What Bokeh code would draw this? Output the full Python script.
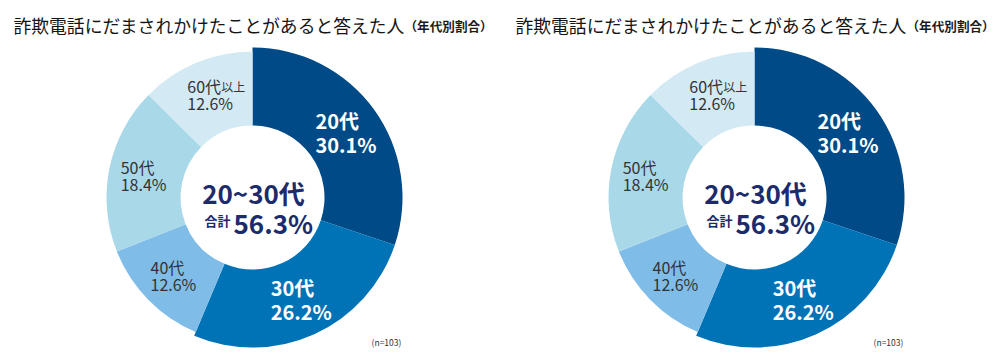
import math
from bokeh.plotting import figure
from bokeh.models import Range1d
from bokeh.core.properties import value
from bokeh.embed import file_html
from bokeh.resources import INLINE

# ---- data ----
categories = ["20代", "30代", "40代", "50代", "60代"]
name_suffix = ["", "", "", "", "以上"]
shares = [30.1, 26.2, 12.6, 18.4, 12.6]
pct_labels = ["30.1%", "26.2%", "12.6%", "18.4%", "12.6%"]
center_title = "20~30代"
center_sub = "合計"
center_value = "56.3%"
title_main = "詐欺電話にだまされかけたことがあると答えた人"
title_sub = "（年代別割合）"
note = "(n=103)"

# ---- style ----
colors = ["#004a87", "#0072b6", "#7fbde8", "#a9d8e8", "#d3eaf4"]
outer_r = [150, 150, 146, 146, 146]
label_color = ["white", "white", "#333333", "#333333", "#333333"]
label_big = [True, True, False, False, False]
NAVY = "#1b2b6b"
FONT = value("Noto Sans CJK JP")
W, H = 1000, 357

p = figure(width=W, height=H, output_backend="svg", toolbar_location=None,
           x_range=Range1d(0, W), y_range=Range1d(0, H), min_border=0)
p.axis.visible = False
p.grid.visible = False
p.outline_line_color = None
p.background_fill_color = "white"


def Y(ypx):
    return H - ypx


def draw_chart(ox):
    cx, cy = 252 + ox, Y(197)
    total = sum(shares)
    cum = 0.0
    for i, v in enumerate(shares):
        a0 = math.pi / 2 - 2 * math.pi * cum / total
        a1 = math.pi / 2 - 2 * math.pi * (cum + v) / total
        mid = math.pi / 2 - 2 * math.pi * (cum + v / 2) / total
        cum += v
        p.annular_wedge(x=cx, y=cy, inner_radius=72, outer_radius=outer_r[i],
                        inner_radius_units="screen", outer_radius_units="screen",
                        start_angle=a0, end_angle=a1, direction="clock",
                        fill_color=colors[i], line_color=None)
        lx = cx + 112 * math.cos(mid)
        ly = cy + 112 * math.sin(mid)
        if label_big[i]:
            fs, dy, hw, style = "20px", 12, 28, "bold"
        else:
            fs, dy, hw, style = "16px", 8.5, 22, "normal"
        p.text(x=[lx - hw], y=[ly + dy], text=[categories[i]], text_font=FONT,
               text_font_size=fs, text_font_style=style, text_color=label_color[i],
               text_align="left", text_baseline="middle")
        if name_suffix[i]:
            p.text(x=[lx - hw + 34], y=[ly + dy - 1], text=[name_suffix[i]], text_font=FONT,
                   text_font_size="12px", text_font_style=style, text_color=label_color[i],
                   text_align="left", text_baseline="middle")
        p.text(x=[lx - hw], y=[ly - dy], text=[pct_labels[i]], text_font=FONT,
               text_font_size=fs, text_font_style=style, text_color=label_color[i],
               text_align="left", text_baseline="middle")

    # center texts
    p.text(x=[cx + 1], y=[Y(191.5)], text=[center_title], text_font=FONT,
           text_font_size="26px", text_font_style="bold", text_color=NAVY,
           text_align="center", text_baseline="alphabetic")
    p.text(x=[cx - 22], y=[Y(220)], text=[center_sub], text_font=FONT,
           text_font_size="13px", text_font_style="bold", text_color=NAVY,
           text_align="right", text_baseline="alphabetic")
    p.text(x=[cx - 19], y=[Y(221.5)], text=[center_value], text_font=FONT,
           text_font_size="26px", text_font_style="bold", text_color=NAVY,
           text_align="left", text_baseline="alphabetic")

    # title
    p.text(x=[13 + ox], y=[Y(24)], text=[title_main], text_font=FONT,
           text_font_size="17.8px", text_font_style="normal", text_color="#141414",
           text_align="left", text_baseline="middle")
    p.text(x=[404 + ox], y=[Y(25)], text=[title_sub], text_font=FONT,
           text_font_size="12.6px", text_font_style="bold", text_color="#1a1a1a",
           text_align="left", text_baseline="middle")
    # note
    p.text(x=[386 + ox], y=[Y(341)], text=[note], text_font=FONT,
           text_font_size="8.5px", text_color="#333333",
           text_align="center", text_baseline="middle")


draw_chart(0)
draw_chart(502)

open("out.html", "w").write(file_html(p, INLINE))
